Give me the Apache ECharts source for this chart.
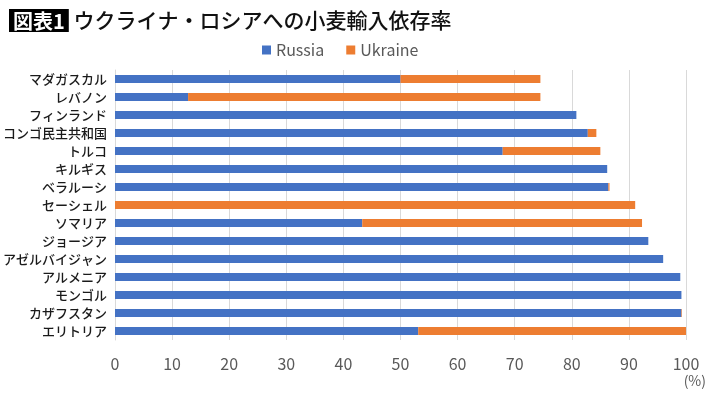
<!DOCTYPE html>
<html>
<head>
<meta charset="utf-8">
<script src="https://cdn.jsdelivr.net/npm/echarts@6/dist/echarts.min.js"></script>
<style>
  html, body { margin: 0; padding: 0; background: #fff; }
  #chart { width: 710px; height: 396px; }
</style>
</head>
<body>
<div id="chart"></div>
<script>
const countries = [
  'マダガスカル', 'レバノン', 'フィンランド', 'コンゴ民主共和国', 'トルコ',
  'キルギス', 'ベラルーシ', 'セーシェル', 'ソマリア', 'ジョージア',
  'アゼルバイジャン', 'アルメニア', 'モンゴル', 'カザフスタン', 'エリトリア'
]
const russia = [50.0, 12.8, 80.8, 82.8, 67.9, 86.2, 86.4, 0, 43.3, 93.4, 96.0, 99.0, 99.2, 99.2, 53.1]
const ukraine = [24.5, 61.7, 0, 1.5, 17.1, 0, 0.2, 91.1, 49.0, 0, 0, 0, 0, 0.1, 46.9]
const xTicks = [0, 10, 20, 30, 40, 50, 60, 70, 80, 90, 100]

const font = '"Noto Sans CJK JP", "Noto Sans", sans-serif'
const chart = echarts.init(document.getElementById('chart'))

chart.setOption({
  backgroundColor: '#fff',
  animation: false,
  textStyle: { fontFamily: font },
  title: {
    left: 4,
    top: 4,
    text: '{box|図表1} ウクライナ・ロシアへの小麦輸入依存率',
    textStyle: {
      fontFamily: font,
      fontSize: 21,
      fontWeight: 500,
      color: '#111',
      rich: {
        box: {
          backgroundColor: '#000',
          color: '#fff',
          fontSize: 20,
          fontWeight: 'bold',
          fontFamily: font,
          padding: [2, 4, 1, 4],
        },
      },
    },
  },
  legend: {
    top: 37,
    left: 257,
    itemWidth: 9,
    itemHeight: 9,
    itemGap: 22,
    icon: 'rect',
    textStyle: { color: '#595959', fontSize: 16, fontFamily: font },
    data: ['Russia', 'Ukraine'],
  },
  grid: { left: 114, right: 24, top: 70, bottom: 56, containLabel: false },
  xAxis: {
    type: 'value',
    min: xTicks[0],
    max: xTicks[xTicks.length - 1],
    interval: 10,
    axisLine: { show: false },
    axisTick: { show: false },
    axisLabel: { color: '#595959', fontSize: 16, margin: 16, fontFamily: font },
    splitLine: { show: true, lineStyle: { color: '#d9d9d9', width: 1 } },
  },
  yAxis: {
    type: 'category',
    inverse: true,
    data: countries,
    axisLine: { show: true, lineStyle: { color: '#d9d9d9' } },
    axisTick: { show: false },
    axisLabel: { color: '#1a1a1a', fontSize: 13, fontWeight: 500, margin: 8, fontFamily: font },
  },
  graphic: [
    {
      type: 'text',
      right: 4,
      top: 374,
      style: { text: '(%)', fill: '#595959', fontSize: 14, fontFamily: font },
    },
  ],
  series: [
    {
      name: 'Russia',
      type: 'bar',
      stack: 'total',
      data: russia,
      barWidth: 8,
      itemStyle: { color: '#4472c4' },
    },
    {
      name: 'Ukraine',
      type: 'bar',
      stack: 'total',
      data: ukraine,
      barWidth: 8,
      itemStyle: { color: '#ed7d31' },
    },
  ],
})
</script>
</body>
</html>
